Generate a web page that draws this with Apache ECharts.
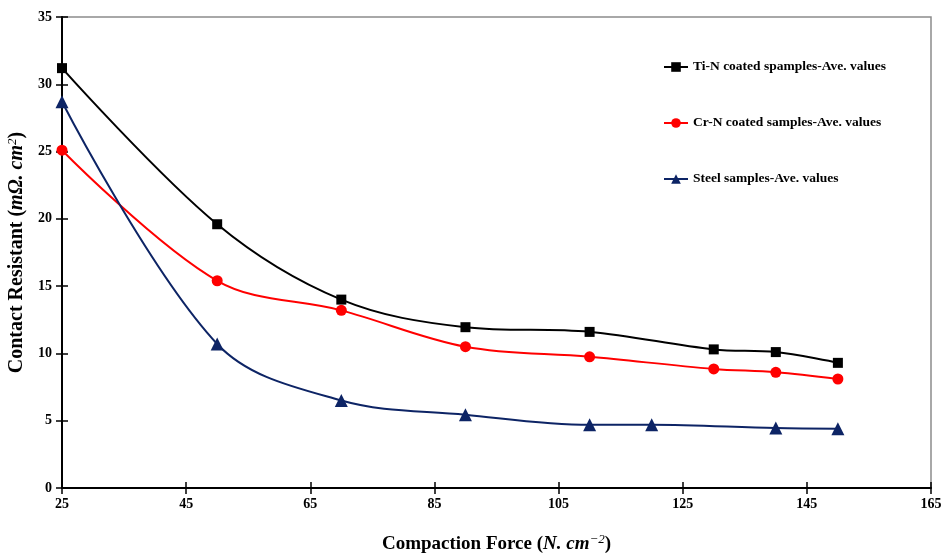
<!DOCTYPE html>
<html>
<head>
<meta charset="utf-8">
<script src="https://cdn.jsdelivr.net/npm/echarts@6/dist/echarts.min.js"></script>
<style>
  html, body { margin: 0; padding: 0; background: #fff; }
  #chart { width: 942px; height: 556px; }
</style>
</head>
<body>
<div id="chart"></div>
<script>
// values
const tinX = [25, 50, 70, 90, 110, 130, 140, 150];
const tinY = [31.2, 19.6, 14.0, 11.95, 11.6, 10.3, 10.1, 9.3];

const crnX = [25, 50, 70, 90, 110, 130, 140, 150];
const crnY = [25.1, 15.4, 13.2, 10.5, 9.75, 8.85, 8.6, 8.1];

const steelX = [25, 50, 70, 90, 110, 120, 140, 150];
const steelY = [28.7, 10.7, 6.5, 5.45, 4.7, 4.7, 4.45, 4.4];

const seriesNames = [
  'Ti-N coated spamples-Ave. values',
  'Cr-N coated samples-Ave. values',
  'Steel samples-Ave. values'
];

const font = 'Liberation Serif, Times New Roman, serif';

function pairs(xs, ys) {
  return xs.map(function (x, i) { return [x, ys[i]]; });
}

function titleRich(size) {
  return {
    b: { fontFamily: font, fontWeight: 'bold', fontSize: size, color: '#000' },
    i: { fontFamily: font, fontStyle: 'italic', fontWeight: 'bold', fontSize: size, color: '#000' },
    s: { fontFamily: font, fontStyle: 'italic', fontSize: 13, color: '#000', verticalAlign: 'top', padding: [0, 0, 9, 0] }
  };
}

const myChart = echarts.init(document.getElementById('chart'));

const option = {
  animation: false,
  backgroundColor: '#fff',
  grid: {
    left: 62,
    right: 11,
    top: 17,
    bottom: 68,
    outerBoundsMode: 'none',
    containLabel: false,
    show: true,
    borderColor: '#8c8c8c',
    borderWidth: 1.5
  },
  legend: {
    orient: 'vertical',
    left: 658,
    top: 55,
    itemWidth: 24,
    itemHeight: 12,
    itemGap: 42,
    textStyle: { fontFamily: font, fontWeight: 'bold', fontSize: 13.5, color: '#000' },
    data: seriesNames
  },
  xAxis: [
    {
      type: 'value',
      min: 25,
      max: 165,
      interval: 20,
      name: '{b|Compaction Force (}{i|N. cm}{s|−2}{b|)}',
      nameLocation: 'middle',
      nameGap: 45,
      nameTextStyle: { rich: titleRich(19) },
      axisLine: { show: true, onZero: false, lineStyle: { color: '#000', width: 2 } },
      axisTick: { show: true, length: 6, lineStyle: { color: '#000', width: 1.5 } },
      axisLabel: { fontFamily: font, fontWeight: 'bold', fontSize: 14, color: '#000', margin: 9 },
      splitLine: { show: false }
    },
    {
      // inner half of the crossing ticks
      type: 'value',
      position: 'bottom',
      min: 25,
      max: 165,
      interval: 20,
      axisLine: { show: false },
      axisTick: { show: true, inside: true, length: 6, lineStyle: { color: '#000', width: 1.5 } },
      axisLabel: { show: false },
      splitLine: { show: false }
    }
  ],
  yAxis: [
    {
      type: 'value',
      min: 0,
      max: 35,
      interval: 5,
      name: '{b|Contact Resistant (}{i|mΩ. cm}{s|2}{b|)}',
      nameLocation: 'middle',
      nameRotate: 90,
      nameGap: 29,
      nameTextStyle: { rich: titleRich(20) },
      axisLine: { show: true, onZero: false, lineStyle: { color: '#000', width: 2 } },
      axisTick: { show: true, length: 6, lineStyle: { color: '#000', width: 1.5 } },
      axisLabel: { fontFamily: font, fontWeight: 'bold', fontSize: 14, color: '#000', margin: 10 },
      splitLine: { show: false }
    },
    {
      type: 'value',
      position: 'left',
      min: 0,
      max: 35,
      interval: 5,
      axisLine: { show: false },
      axisTick: { show: true, inside: true, length: 6, lineStyle: { color: '#000', width: 1.5 } },
      axisLabel: { show: false },
      splitLine: { show: false }
    }
  ],
  series: [
    {
      name: seriesNames[0],
      type: 'line',
      smooth: 0.35,
      symbol: 'rect',
      symbolSize: 10,
      lineStyle: { color: '#000', width: 2 },
      itemStyle: { color: '#000' },
      data: pairs(tinX, tinY),
      z: 3
    },
    {
      name: seriesNames[1],
      type: 'line',
      smooth: 0.35,
      symbol: 'circle',
      symbolSize: 11,
      lineStyle: { color: '#ff0000', width: 2 },
      itemStyle: { color: '#ff0000' },
      data: pairs(crnX, crnY),
      z: 3
    },
    {
      name: seriesNames[2],
      type: 'line',
      smooth: 0.35,
      symbol: 'triangle',
      symbolSize: 13,
      lineStyle: { color: '#0d2465', width: 2 },
      itemStyle: { color: '#0d2465' },
      data: pairs(steelX, steelY),
      z: 3
    }
  ]
};

myChart.setOption(option);
</script>
</body>
</html>
